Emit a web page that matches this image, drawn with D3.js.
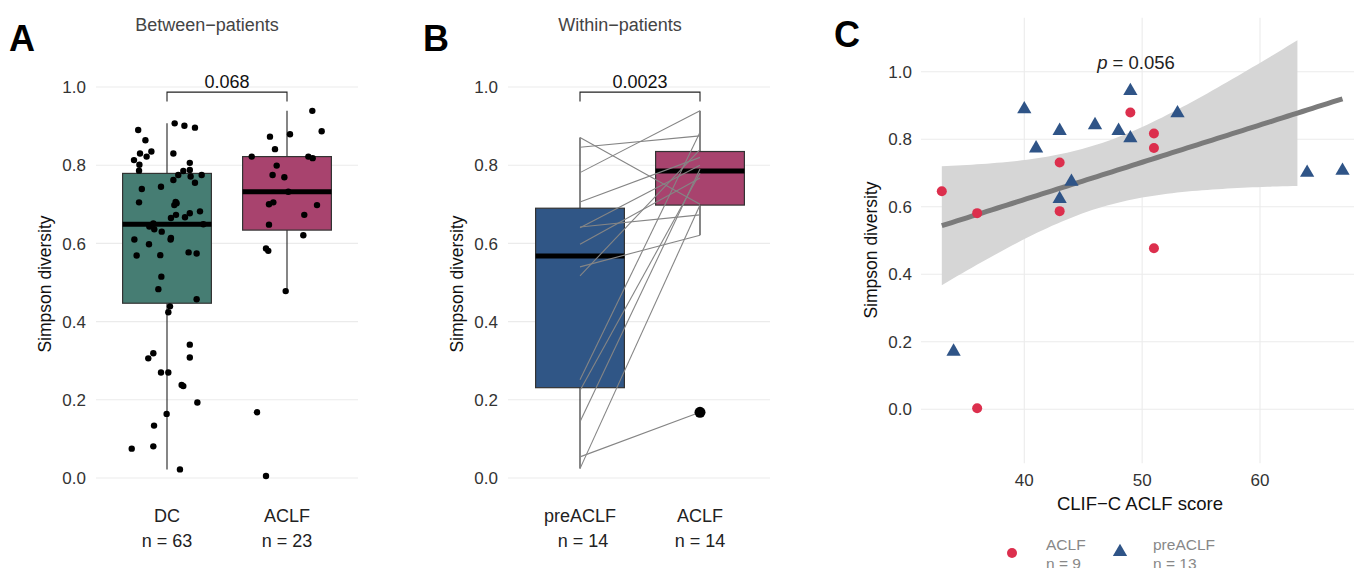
<!DOCTYPE html>
<html lang="en">
<head>
<meta charset="UTF-8">
<title>Simpson diversity</title>
<style>
  body { margin: 0; background: #fff; }
  svg { font-family: "Liberation Sans", Arial, sans-serif; }
</style>
</head>
<body>
<div id="chart"></div>
<script src="https://d3js.org/d3.v7.min.js"></script>
<script>
// ---- panel A: between patients (value, jitter in category steps) ----
const groupsA = ["DC", "ACLF"];
const countsA = [63, 23];
const dcValues = [0.890, 0.864, 0.830, 0.822, 0.835, 0.813, 0.801, 0.786, 0.907, 0.901, 0.896, 0.830, 0.806,
  0.788, 0.785, 0.775, 0.771, 0.775, 0.762, 0.755, 0.739, 0.745, 0.705, 0.706, 0.698, 0.665, 0.673, 0.667,
  0.677, 0.682, 0.643, 0.651, 0.636, 0.630, 0.649, 0.610, 0.610, 0.614, 0.598, 0.569, 0.570, 0.577, 0.574,
  0.515, 0.483, 0.457, 0.439, 0.424, 0.341, 0.319, 0.306, 0.308, 0.270, 0.270, 0.238, 0.235, 0.193, 0.164,
  0.134, 0.075, 0.081, 0.022, 0.703];
const dcJitter = [-0.24, -0.18, -0.225, -0.17, -0.13, -0.275, -0.23, -0.233, 0.064, 0.145, 0.233, 0.053, 0.19,
  0.19, 0.136, 0.094, 0.197, 0.289, 0.053, 0.233, -0.21, -0.05, -0.233, 0.072, 0.061, 0.033, 0.075, 0.15,
  0.19, 0.275, -0.147, -0.114, -0.106, -0.044, 0.303, -0.272, 0.03, 0.033, -0.15, -0.253, -0.056, 0.18, 0.247,
  -0.047, -0.072, 0.247, 0.025, 0.011, 0.19, -0.114, -0.156, 0.19, -0.05, 0.011, 0.122, 0.136, 0.253, -0.003,
  -0.108, -0.294, -0.114, 0.108, 0.08];
const aclfValues = [0.939, 0.887, 0.873, 0.879, 0.841, 0.822, 0.822, 0.818, 0.799, 0.775, 0.769, 0.732, 0.700,
  0.705, 0.698, 0.673, 0.648, 0.621, 0.587, 0.581, 0.478, 0.168, 0.005];
const aclfJitter = [0.211, 0.289, -0.142, 0.025, -0.1, -0.294, 0.178, 0.214, -0.086, -0.12, -0.022, 0.011, -0.15,
  -0.114, 0.25, 0.144, -0.15, 0.136, -0.175, -0.156, -0.011, -0.25, -0.175];
// box stats: [lower whisker, q1, median, q3, upper whisker]
const boxStatsA = [[0.022, 0.447, 0.649, 0.779, 0.907], [0.478, 0.634, 0.732, 0.822, 0.939]];
const pValueA = "0.068";

// ---- panel B: within patients (paired) ----
const groupsB = ["preACLF", "ACLF"];
const countsB = [14, 14];
const preValues = [0.871, 0.846, 0.781, 0.706, 0.642, 0.640, 0.598, 0.540, 0.517, 0.251, 0.224, 0.144, 0.054, 0.024];
const postValues = [0.700, 0.875, 0.939, 0.820, 0.673, 0.800, 0.767, 0.621, 0.840, 0.884, 0.780, 0.790, 0.168, 0.698];
const boxStatsB = [[0.024, 0.231, 0.568, 0.690, 0.871], [0.621, 0.698, 0.785, 0.835, 0.939]];
const pValueB = "0.0023";

// ---- panel C: score vs diversity ----
const scoreAclf = [33, 36, 43, 43, 49, 51, 51, 51, 36];
const divAclf = [0.646, 0.581, 0.731, 0.587, 0.879, 0.817, 0.774, 0.477, 0.003];
const scorePre = [40, 41, 43, 44, 43, 46, 48, 49, 49, 53, 64, 67, 34];
const divPre = [0.889, 0.773, 0.825, 0.674, 0.623, 0.842, 0.825, 0.803, 0.943, 0.877, 0.701, 0.707, 0.171];
const pValueC = "0.056";
const yTicks = [0, 0.2, 0.4, 0.6, 0.8, 1.0];
const xTicksC = [40, 50, 60];
const yLimitsC = [-0.1, 1.1];
const tCrit = 2.086; // t(0.975, df = 20)

const colA = ["#467d73", "#a8436e"];
const colB = ["#305686", "#a8436e"];
const colPointAclf = "#dc2f4d";
const colPointPre = "#2f5487";
const gridCol = "#ebebeb";
const textCol = "#333";

const W = 1354, H = 568;
const svg = d3.select("#chart").append("svg").attr("width", W).attr("height", H);

function yAxisWithGrid(g, y, x0, x1, labelX) {
  g.append("g").selectAll("line").data(yTicks).enter().append("line")
    .attr("x1", x0).attr("x2", x1)
    .attr("y1", d => y(d)).attr("y2", d => y(d))
    .attr("stroke", gridCol).attr("stroke-width", 1.1);
  g.append("g").selectAll("text").data(yTicks).enter().append("text")
    .attr("x", labelX).attr("y", d => y(d)).attr("dy", "0.36em")
    .attr("text-anchor", "end").attr("font-size", 17).attr("fill", textCol)
    .text(d => d3.format(".1f")(d));
}

function yTitle(g, x, yc) {
  g.append("text").attr("transform", `translate(${x},${yc}) rotate(-90)`)
    .attr("text-anchor", "middle").attr("font-size", 17.5).attr("fill", "#111")
    .text("Simpson diversity");
}

function drawBoxes(g, x, y, groups, stats, colors) {
  const hw = x.step() * 0.37;
  groups.forEach((grp, i) => {
    const s = stats[i], cx = x(grp);
    g.append("line").attr("x1", cx).attr("x2", cx).attr("y1", y(s[0])).attr("y2", y(s[1]))
      .attr("stroke", "#222").attr("stroke-width", 1.1);
    g.append("line").attr("x1", cx).attr("x2", cx).attr("y1", y(s[3])).attr("y2", y(s[4]))
      .attr("stroke", "#222").attr("stroke-width", 1.1);
    g.append("rect").attr("x", cx - hw).attr("width", hw * 2)
      .attr("y", y(s[3])).attr("height", y(s[1]) - y(s[3]))
      .attr("fill", colors[i]).attr("stroke", "#333").attr("stroke-width", 1.2);
    g.append("line").attr("x1", cx - hw).attr("x2", cx + hw).attr("y1", y(s[2])).attr("y2", y(s[2]))
      .attr("stroke", "#000").attr("stroke-width", 5);
  });
}

function bracket(g, x, y, groups, label) {
  const x0 = x(groups[0]), x1 = x(groups[1]);
  g.append("path")
    .attr("d", `M${x0},${y(0.963)}V${y(0.987)}H${x1}V${y(0.963)}`)
    .attr("fill", "none").attr("stroke", "#222").attr("stroke-width", 1.1);
  g.append("text").attr("x", (x0 + x1) / 2).attr("y", y(0.987) - 4)
    .attr("text-anchor", "middle").attr("font-size", 18).attr("fill", "#111").text(label);
}

function xLabels(g, x, groups, counts, yPos) {
  groups.forEach((grp, i) => {
    g.append("text").attr("x", x(grp)).attr("y", yPos).attr("text-anchor", "middle")
      .attr("font-size", 18).attr("fill", "#222").text(grp);
    g.append("text").attr("x", x(grp) + (grp === "preACLF" ? 3 : 0)).attr("y", yPos + 25)
      .attr("text-anchor", "middle").attr("font-size", 18).attr("fill", "#222").text(`n = ${counts[i]}`);
  });
}

function tag(g, x, y, t) {
  g.append("text").attr("x", x).attr("y", y).attr("font-size", 36).attr("font-weight", "bold")
    .attr("fill", "#000").text(t);
}

// ---------------- Panel A ----------------
const gA = svg.append("g");
const xA = d3.scalePoint().domain(groupsA).range([167, 287]);
const yA = d3.scaleLinear().domain([0, 1]).range([478, 87]);
tag(gA, 9, 51, "A");
gA.append("text").attr("x", 207).attr("y", 31).attr("text-anchor", "middle")
  .attr("font-size", 18).attr("fill", "#444").text("Between\u2212patients");
yAxisWithGrid(gA, yA, 96, 358, 86);
yTitle(gA, 51, 284);
drawBoxes(gA, xA, yA, groupsA, boxStatsA, colA);
const ptsA = dcValues.map((v, i) => ({ g: "DC", v, j: dcJitter[i] }))
  .concat(aclfValues.map((v, i) => ({ g: "ACLF", v, j: aclfJitter[i] })));
gA.append("g").selectAll("circle").data(ptsA).enter().append("circle")
  .attr("cx", d => xA(d.g) + d.j * xA.step())
  .attr("cy", d => yA(d.v))
  .attr("r", 3.2).attr("fill", "#000");
bracket(gA, xA, yA, groupsA, pValueA);
xLabels(gA, xA, groupsA, countsA, 522);

// ---------------- Panel B ----------------
const gB = svg.append("g");
const xB = d3.scalePoint().domain(groupsB).range([580, 700]);
const yB = d3.scaleLinear().domain([0, 1]).range([478, 87]);
tag(gB, 423, 51, "B");
gB.append("text").attr("x", 620).attr("y", 31).attr("text-anchor", "middle")
  .attr("font-size", 18).attr("fill", "#444").text("Within\u2212patients");
yAxisWithGrid(gB, yB, 508, 770, 498);
yTitle(gB, 463, 284);
drawBoxes(gB, xB, yB, groupsB, boxStatsB, colB);
gB.append("g").selectAll("line").data(preValues).enter().append("line")
  .attr("x1", xB(groupsB[0])).attr("x2", xB(groupsB[1]))
  .attr("y1", d => yB(d)).attr("y2", (d, i) => yB(postValues[i]))
  .attr("stroke", "#858585").attr("stroke-width", 1.1);
const outB = postValues.filter(v => v < boxStatsB[1][0] || v > boxStatsB[1][4]);
gB.append("g").selectAll("circle").data(outB).enter().append("circle")
  .attr("cx", xB(groupsB[1])).attr("cy", d => yB(d)).attr("r", 5.5).attr("fill", "#000");
bracket(gB, xB, yB, groupsB, pValueB);
xLabels(gB, xB, groupsB, countsB, 522);

// ---------------- Panel C ----------------
const gC = svg.append("g");
const xC = d3.scaleLinear().domain([40, 60]).range([1024.3, 1260]);
const yC = d3.scaleLinear().domain([0, 1]).range([409.3, 71.7]);
const plotTop = yC(yLimitsC[1] + 0.06), plotBottom = yC(yLimitsC[0] - 0.06);
tag(gC, 834, 47, "C");
yAxisWithGrid(gC, yC, 921, W, 912);
gC.append("g").selectAll("line").data(xTicksC).enter().append("line")
  .attr("x1", d => xC(d)).attr("x2", d => xC(d)).attr("y1", plotTop).attr("y2", plotBottom)
  .attr("stroke", gridCol).attr("stroke-width", 1.1);
gC.append("g").selectAll("text").data(xTicksC).enter().append("text")
  .attr("x", d => xC(d)).attr("y", 486).attr("text-anchor", "middle")
  .attr("font-size", 17).attr("fill", textCol).text(d => d);
gC.append("text").attr("x", 1140).attr("y", 510).attr("text-anchor", "middle")
  .attr("font-size", 18.5).attr("fill", "#111").text("CLIF\u2212C ACLF score");
yTitle(gC, 877, 250);

// linear fit with 95% confidence band
const allX = scoreAclf.concat(scorePre), allY = divAclf.concat(divPre);
const n = allX.length, mx = d3.mean(allX), my = d3.mean(allY);
const sxx = d3.sum(allX, v => (v - mx) ** 2);
const sxy = d3.sum(allX, (v, i) => (v - mx) * (allY[i] - my));
const slope = sxy / sxx, icpt = my - slope * mx;
const sres = Math.sqrt(d3.sum(allX, (v, i) => (allY[i] - icpt - slope * v) ** 2) / (n - 2));
const xmin = d3.min(allX), xmax = d3.max(allX);
const fit = d3.range(0, 81).map(k => {
  const xv = xmin + (xmax - xmin) * k / 80;
  const yh = icpt + slope * xv;
  const se = sres * Math.sqrt(1 / n + (xv - mx) ** 2 / sxx);
  return { x: xv, y: yh, lo: yh - tCrit * se, hi: yh + tCrit * se };
});
const band = fit.filter(d => d.hi <= yLimitsC[1] && d.lo >= yLimitsC[0]);
gC.append("path").datum(band)
  .attr("d", d3.area().x(d => xC(d.x)).y0(d => yC(d.lo)).y1(d => yC(d.hi)))
  .attr("fill", "#d6d6d6");
gC.append("path").datum(fit)
  .attr("d", d3.line().x(d => xC(d.x)).y(d => yC(d.y)))
  .attr("fill", "none").attr("stroke", "#7b7b7b").attr("stroke-width", 5);

const tri = d3.symbol().type(d3.symbolTriangle).size(88);
gC.append("g").selectAll("path").data(scorePre).enter().append("path")
  .attr("d", tri).attr("transform", (d, i) => `translate(${xC(d)},${yC(divPre[i])})`)
  .attr("fill", colPointPre);
gC.append("g").selectAll("circle").data(scoreAclf).enter().append("circle")
  .attr("cx", d => xC(d)).attr("cy", (d, i) => yC(divAclf[i]))
  .attr("r", 5).attr("fill", colPointAclf);

const pText = gC.append("text").attr("x", 1136).attr("y", 69).attr("text-anchor", "middle")
  .attr("font-size", 18.5).attr("fill", "#222");
pText.append("tspan").attr("font-style", "italic").text("p");
pText.append("tspan").text(` = ${pValueC}`);

// legend
const legend = gC.append("g");
legend.append("circle").attr("cx", 1012).attr("cy", 553).attr("r", 5).attr("fill", colPointAclf);
legend.append("text").attr("x", 1046).attr("y", 550).attr("font-size", 15.5).attr("fill", "#888").text("ACLF");
legend.append("text").attr("x", 1046).attr("y", 569).attr("font-size", 15.5).attr("fill", "#888").text("n = 9");
legend.append("path").attr("d", tri).attr("transform", "translate(1120,552)").attr("fill", colPointPre);
legend.append("text").attr("x", 1153).attr("y", 550).attr("font-size", 15.5).attr("fill", "#888").text("preACLF");
legend.append("text").attr("x", 1153).attr("y", 569).attr("font-size", 15.5).attr("fill", "#888").text("n = 13");
</script>
</body>
</html>
